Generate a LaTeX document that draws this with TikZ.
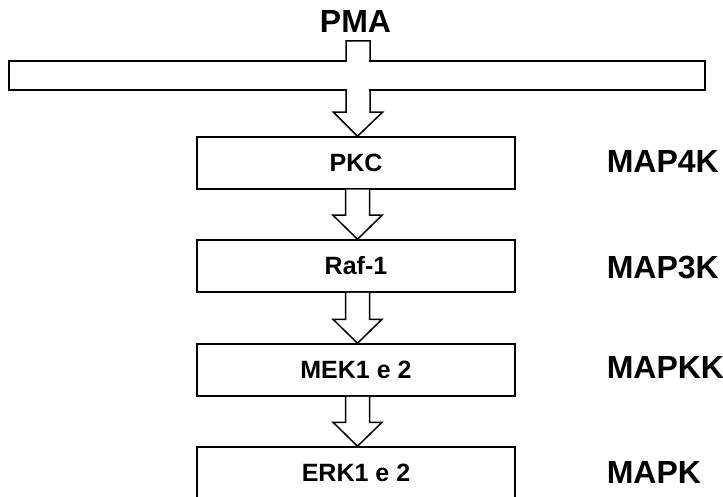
\documentclass[tikz,border=0pt]{standalone}
\usepackage{fontspec}
\setmainfont{Liberation Sans}
\usetikzlibrary{calc}
\newcommand\blockarr[2]{%
  \draw[fill=white] let \p1=(#1.south), \p2=(#2.north) in
    (\x1+1.5pt-12pt,\y1) -- (\x1+1.5pt-12pt,\y2+24pt) -- (\x1+1.5pt-24.5pt,\y2+24pt)
    -- (\x2+1.5pt,\y2) -- (\x1+1.5pt+24.5pt,\y2+24pt) -- (\x1+1.5pt+12pt,\y2+24pt)
    -- (\x1+1.5pt+12pt,\y1);
}
\begin{document}
\begin{tikzpicture}[x=1pt,y=-1pt,line width=1.5pt,
  stepbox/.style={draw,fill=white,minimum width=318pt,minimum height=52pt,inner sep=0pt,
    font=\fontsize{25}{30}\selectfont\bfseries},
  lab/.style={anchor=west,inner sep=0pt,font=\fontsize{32}{38}\selectfont\bfseries},
  membr/.style={draw,fill=white,minimum width=696pt,minimum height=29pt,inner sep=0pt}]
\useasboundingbox (0,0) rectangle (723,497);
\fill[white] (0,0) rectangle (723,497);

\node[lab,anchor=center] (pma) at (355.5,21.5) {PMA};

\node[stepbox] (pkc) at (356,163) {PKC};
\node[stepbox] (raf) at (356,266) {Raf-1};
\node[stepbox] (mek) at (356,370) {MEK1 e 2};
\node[stepbox] (erk) at (356,473) {ERK1 e 2};

% arrow through membrane
\coordinate (atop) at (358,41);
\draw[fill=white] let \p1=(atop), \p2=(pkc.north) in
  (\x1-12pt,\y1) -- (\x1-12pt,\y2+24pt) -- (\x1-24.5pt,\y2+24pt) -- (\x2+1.5pt,\y2)
  -- (\x1+24.5pt,\y2+24pt) -- (\x1+12pt,\y2+24pt) -- (\x1+12pt,\y1) -- cycle;
\node[membr] (mem) at (357,75.5) {};
\fill[white] let \p1=(atop) in (\x1-11.2pt,59) rectangle (\x1+11.2pt,92);

\blockarr{pkc}{raf}
\blockarr{raf}{mek}
\blockarr{mek}{erk}

\node[lab] (l4) at (606,161) {MAP4K};
\node[lab] (l3) at (606,268) {MAP3K};
\node[lab] (l2) at (606,367) {MAPKK};
\node[lab] (l1) at (606,472) {MAPK};
\end{tikzpicture}
\end{document}
